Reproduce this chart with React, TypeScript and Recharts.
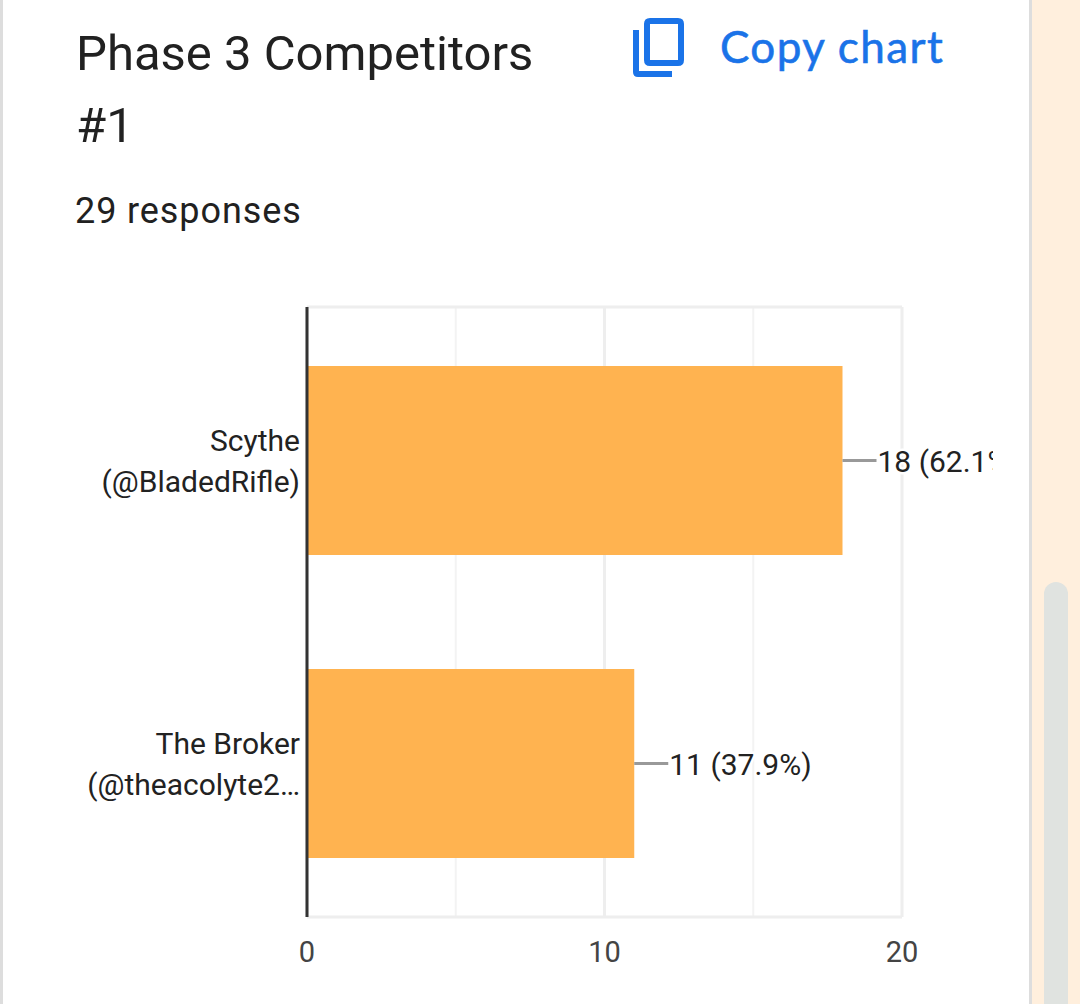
import { BarChart, Bar, XAxis, YAxis, CartesianGrid, LabelList } from 'recharts'

const categories = ['Scythe (@BladedRifle)', 'The Broker (@theacolyte2…']
const counts = [18, 11]
const percents = ['62.1%', '37.9%']
const axisTicks = [0, 10, 20]
const minorGrid = [5, 15]
const majorGrid = [0, 10, 20]

const rows = categories.map((name, i) => ({ name, count: counts[i], percent: percents[i] }))

const FONT = 'Roboto, sans-serif'

function CategoryTick({ x, y, payload }: any) {
  const split = payload.value.indexOf(' (')
  const lines = [payload.value.slice(0, split), payload.value.slice(split + 1)]
  return (
    <text x={x + 1} y={y} textAnchor="end" fontFamily={FONT} fontSize={30} fill="#222">
      <tspan x={x + 1} dy={-10}>{lines[0]}</tspan>
      <tspan x={x + 1} dy={41}>{lines[1]}</tspan>
    </text>
  )
}

// leader line + count label, gets clipped by the svg edge like the original
function BarLabel({ x, y, width, height, index }: any) {
  const end = x + width
  const mid = y + height / 2
  return (
    <g>
      <line x1={end} x2={end + 34} y1={mid} y2={mid} stroke="#999" strokeWidth={3} />
      <text
        x={end + 35}
        y={mid + 11}
        fontFamily={FONT}
        fontSize={30}
        fill="#222"
        stroke="#fff"
        strokeWidth={5}
        paintOrder="stroke"
      >
        {`${counts[index]} (${percents[index]})`}
      </text>
    </g>
  )
}

export default function App() {
  return (
    <div style={{ position: 'absolute', left: 0, top: 0, width: 1080, height: 1004, overflow: 'hidden', background: '#ffefdd' }}>
      {/* card */}
      <div style={{ position: 'absolute', left: 0, top: 0, width: 1032, height: 1004, boxSizing: 'border-box', background: '#fff', borderLeft: '3px solid #ddd', borderRight: '3px solid #ddd' }} />
      {/* scrollbar */}
      <div style={{ position: 'absolute', left: 1044, top: 582, width: 24, height: 440, borderRadius: 12, background: '#e0e3e0' }} />

      <div style={{ position: 'absolute', left: 76, top: 26, fontFamily: FONT, fontSize: 49, lineHeight: '56px', color: '#212121', whiteSpace: 'nowrap' }}>Phase 3 Competitors</div>
      <div style={{ position: 'absolute', left: 76, top: 98, fontFamily: FONT, fontSize: 49, lineHeight: '56px', color: '#212121' }}>#1</div>
      <div style={{ position: 'absolute', left: 75, top: 190, fontFamily: FONT, fontSize: 36, lineHeight: '42px', letterSpacing: 0.9, color: '#212121', whiteSpace: 'nowrap' }}>29 responses</div>

      <svg style={{ position: 'absolute', left: 626, top: 12 }} width={64} height={70} viewBox="0 0 64 70">
        <path d="M13 18 H7 V60 Q7 65 12 65 H46 V59 H13 Z M24 6 H52 Q58 6 58 12 V48 Q58 54 52 54 H24 Q18 54 18 48 V12 Q18 6 24 6 Z M24 12 V48 H52 V12 Z" fill="#1a73e8" fillRule="evenodd" />
      </svg>
      <div style={{ position: 'absolute', left: 720, top: 21, fontFamily: 'Lato, sans-serif', fontSize: 44, lineHeight: '50px', letterSpacing: 1.4, WebkitTextStroke: '0.6px #1a73e8', color: '#1a73e8', whiteSpace: 'nowrap' }}>Copy chart</div>

      <div style={{ position: 'absolute', left: 0, top: 0 }}>
        <BarChart
          width={993}
          height={1004}
          data={rows}
          layout="vertical"
          margin={{ top: 307, right: 91, bottom: 0, left: 0 }}
          barSize={189}
          style={{ background: 'transparent' }}
        >
          <CartesianGrid
            vertical
            horizontal={false}
            verticalValues={minorGrid}
            stroke="#f3f3f3"
            strokeWidth={2}
          />
          <CartesianGrid
            vertical
            horizontal
            verticalValues={majorGrid}
            horizontalCoordinatesGenerator={({ offset }: any) => [offset.top, offset.top + offset.height]}
            stroke="#eeeeee"
            strokeWidth={3}
          />
          <XAxis
            type="number"
            domain={[0, 20]}
            ticks={axisTicks}
            height={87}
            axisLine={false}
            tickLine={false}
            tickMargin={18}
            tick={{ fontFamily: FONT, fontSize: 29, fill: '#444' }}
          />
          <YAxis
            type="category"
            dataKey="name"
            width={307}
            padding={{ top: 2, bottom: 2 }}
            axisLine={{ stroke: '#333', strokeWidth: 3 }}
            tickLine={false}
            tick={<CategoryTick />}
            interval={0}
          />
          <Bar dataKey="count" fill="#ffb350" isAnimationActive={false}>
            <LabelList dataKey="count" content={<BarLabel />} />
          </Bar>
        </BarChart>
      </div>
    </div>
  )
}
